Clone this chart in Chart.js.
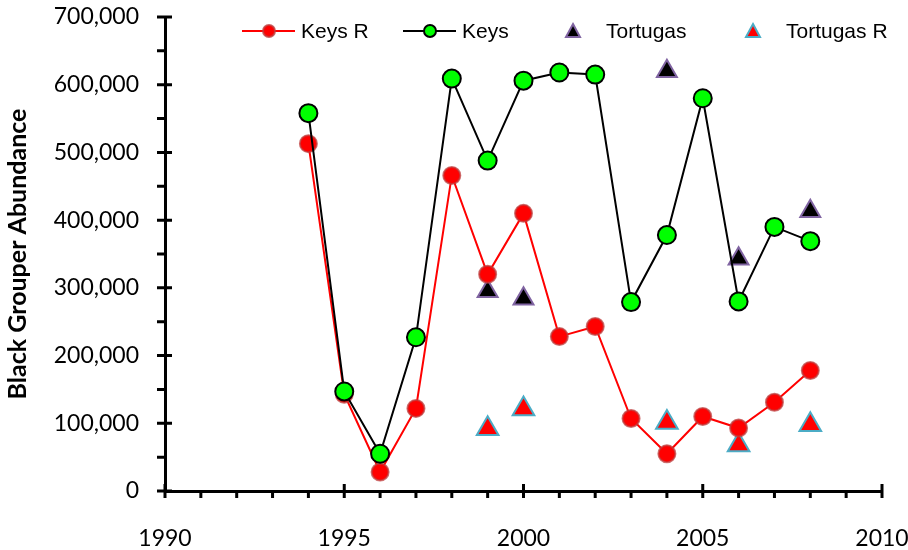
<!DOCTYPE html>
<html>
<head>
<meta charset="utf-8">
<script src="https://cdn.jsdelivr.net/npm/chart.js@4"></script>
<style>
  html, body { margin: 0; padding: 0; background: #fff; }
  #wrap { width: 908px; height: 550px; }
</style>
</head>
<body>
<div id="wrap"><canvas id="groupChart"></canvas></div>
<script>
const ctx = document.getElementById('groupChart').getContext('2d');

// years and values
const keysYears = [1994, 1995, 1996, 1997, 1998, 1999, 2000, 2001, 2002, 2003, 2004, 2005, 2006, 2007, 2008];
const keysR = [513000, 143000, 28000, 122000, 466000, 320000, 410000, 228000, 243000, 107000, 55000, 110000, 93000, 131000, 178000];
const keys = [558000, 147000, 55000, 227000, 609000, 488000, 606000, 618000, 615000, 279000, 378000, 580000, 280000, 390000, 369000];

const tortYears = [1999, 2000, 2004, 2006, 2008];
const tortugas = [295000, 284000, 620000, 343000, 413000];
const tortugasR = [92000, 121000, 101000, 68000, 98000];

function pts(xs, ys) {
    return xs.map((x, i) => ({ x: x, y: ys[i] }));
}

const legendItems = [
    { text: 'Keys R', line: '#ff0000', fill: '#ff0000', stroke: 'rgba(190,60,60,0.8)', style: 'circle' },
    { text: 'Keys', line: '#000000', fill: '#00ff00', stroke: '#000000', style: 'circle' },
    { text: 'Tortugas', line: null, fill: '#000000', stroke: '#8064a2', style: 'triangle' },
    { text: 'Tortugas R', line: null, fill: '#ff0000', stroke: '#4bacc6', style: 'triangle' },
];
const legendX = [242, 403, 573, 753]; // sample start positions

function drawMarker(c, style, x, y, fill, stroke) {
    c.save();
    c.fillStyle = fill;
    c.strokeStyle = stroke;
    c.lineWidth = 2;
    c.beginPath();
    if (style === 'circle') {
        c.arc(x, y, 6, 0, Math.PI * 2);
    } else {
        c.moveTo(x, y - 7);
        c.lineTo(x + 7, y + 6);
        c.lineTo(x - 7, y + 6);
        c.closePath();
    }
    c.fill();
    c.stroke();
    c.restore();
}

const axisTicks = {
    id: 'axisTicks',
    afterDraw(chart) {
        const c = chart.ctx;
        const xs = chart.scales.x;
        const ys = chart.scales.y;
        const area = chart.chartArea;
        c.save();
        c.strokeStyle = '#000';
        c.lineWidth = 3;
        c.beginPath();
        // x ticks every year, long ones every five
        for (let yr = 1990; yr <= 2010; yr++) {
            const px = xs.getPixelForValue(yr);
            if (yr % 5 === 0) {
                c.moveTo(px, area.bottom - 7);
                c.lineTo(px, area.bottom + 7);
            } else {
                c.moveTo(px, area.bottom);
                c.lineTo(px, area.bottom + 7);
            }
        }
        // y ticks every 50,000
        for (let v = 0; v <= 700000; v += 50000) {
            const py = ys.getPixelForValue(v);
            if (v % 100000 === 0) {
                c.moveTo(area.left - 8, py);
                c.lineTo(area.left + 7, py);
            } else {
                c.moveTo(area.left - 8, py);
                c.lineTo(area.left, py);
            }
        }
        c.stroke();

        // legend inside the plot
        const ly = 31;
        c.font = '21px "Liberation Sans", Arial, sans-serif';
        c.textBaseline = 'middle';
        c.fillStyle = '#000';
        legendItems.forEach((it, i) => {
            const x0 = legendX[i];
            if (it.line) {
                c.strokeStyle = it.line;
                c.lineWidth = 2;
                c.beginPath();
                c.moveTo(x0, ly);
                c.lineTo(x0 + 53, ly);
                c.stroke();
                drawMarker(c, it.style, x0 + 27, ly, it.fill, it.stroke);
                c.fillStyle = '#000';
                c.fillText(it.text, x0 + 59, ly + 1);
            } else {
                drawMarker(c, it.style, x0, ly, it.fill, it.stroke);
                c.fillStyle = '#000';
                c.fillText(it.text, x0 + 33, ly + 1);
            }
        });
        c.restore();
    }
};

const data = {
    datasets: [
        {
            label: 'Keys',
            data: pts(keysYears, keys),
            borderColor: '#000000',
            borderWidth: 2,
            backgroundColor: '#00ff00',
            pointBackgroundColor: '#00ff00',
            pointBorderColor: '#000000',
            pointBorderWidth: 2,
            pointRadius: 9,
            showLine: true,
            order: 1,
        },
        {
            label: 'Keys R',
            data: pts(keysYears, keysR),
            borderColor: '#ff0000',
            borderWidth: 2,
            backgroundColor: '#ff0000',
            pointBackgroundColor: '#ff0000',
            pointBorderColor: 'rgba(190,60,60,0.75)',
            pointBorderWidth: 2,
            pointRadius: 8.5,
            showLine: true,
            order: 2,
        },
        {
            label: 'Tortugas',
            data: pts(tortYears, tortugas),
            pointStyle: 'triangle',
            pointBackgroundColor: '#000000',
            pointBorderColor: '#8064a2',
            pointBorderWidth: 2,
            pointRadius: 11.5,
            showLine: false,
            order: 3,
        },
        {
            label: 'Tortugas R',
            data: pts(tortYears, tortugasR),
            pointStyle: 'triangle',
            pointBackgroundColor: '#ff0000',
            pointBorderColor: '#4bacc6',
            pointBorderWidth: 2,
            pointRadius: 12.5,
            showLine: false,
            order: 4,
        }
    ]
};

const config = {
    type: 'scatter',
    data: data,
    options: {
        responsive: true,
        maintainAspectRatio: false,
        animation: false,
        layout: {
            padding: { left: 0, right: 26, top: 17, bottom: 0 }
        },
        plugins: {
            legend: { display: false },
            tooltip: { enabled: false }
        },
        scales: {
            x: {
                type: 'linear',
                min: 1990,
                max: 2010,
                afterFit: (s) => {
                    s.height = 59;
                    s.paddingLeft = 0;
                    s.paddingRight = 0;
                },
                grid: { display: false, drawTicks: false },
                border: { display: true, color: '#000', width: 3 },
                ticks: {
                    stepSize: 5,
                    padding: 34,
                    color: '#000',
                    font: { family: 'Lato', size: 23 },
                    callback: (v) => String(v)
                }
            },
            y: {
                min: 0,
                max: 700000,
                afterFit: (s) => {
                    s.width = 165;
                    s.paddingTop = 0;
                    s.paddingBottom = 0;
                },
                grid: { display: false, drawTicks: false },
                border: { display: true, color: '#000', width: 3 },
                ticks: {
                    stepSize: 100000,
                    padding: 26,
                    color: '#000',
                    font: { family: 'Lato', size: 23 },
                    callback: (v) => v.toLocaleString('en-US')
                },
                title: {
                    display: true,
                    text: 'Black Grouper Abundance',
                    color: '#000',
                    font: { family: 'Lato', size: 25, weight: 'bold' },
                    padding: { top: 3, bottom: 0 }
                }
            }
        }
    },
    plugins: [axisTicks]
};

const myChart = new Chart(ctx, config);
</script>
</body>
</html>
